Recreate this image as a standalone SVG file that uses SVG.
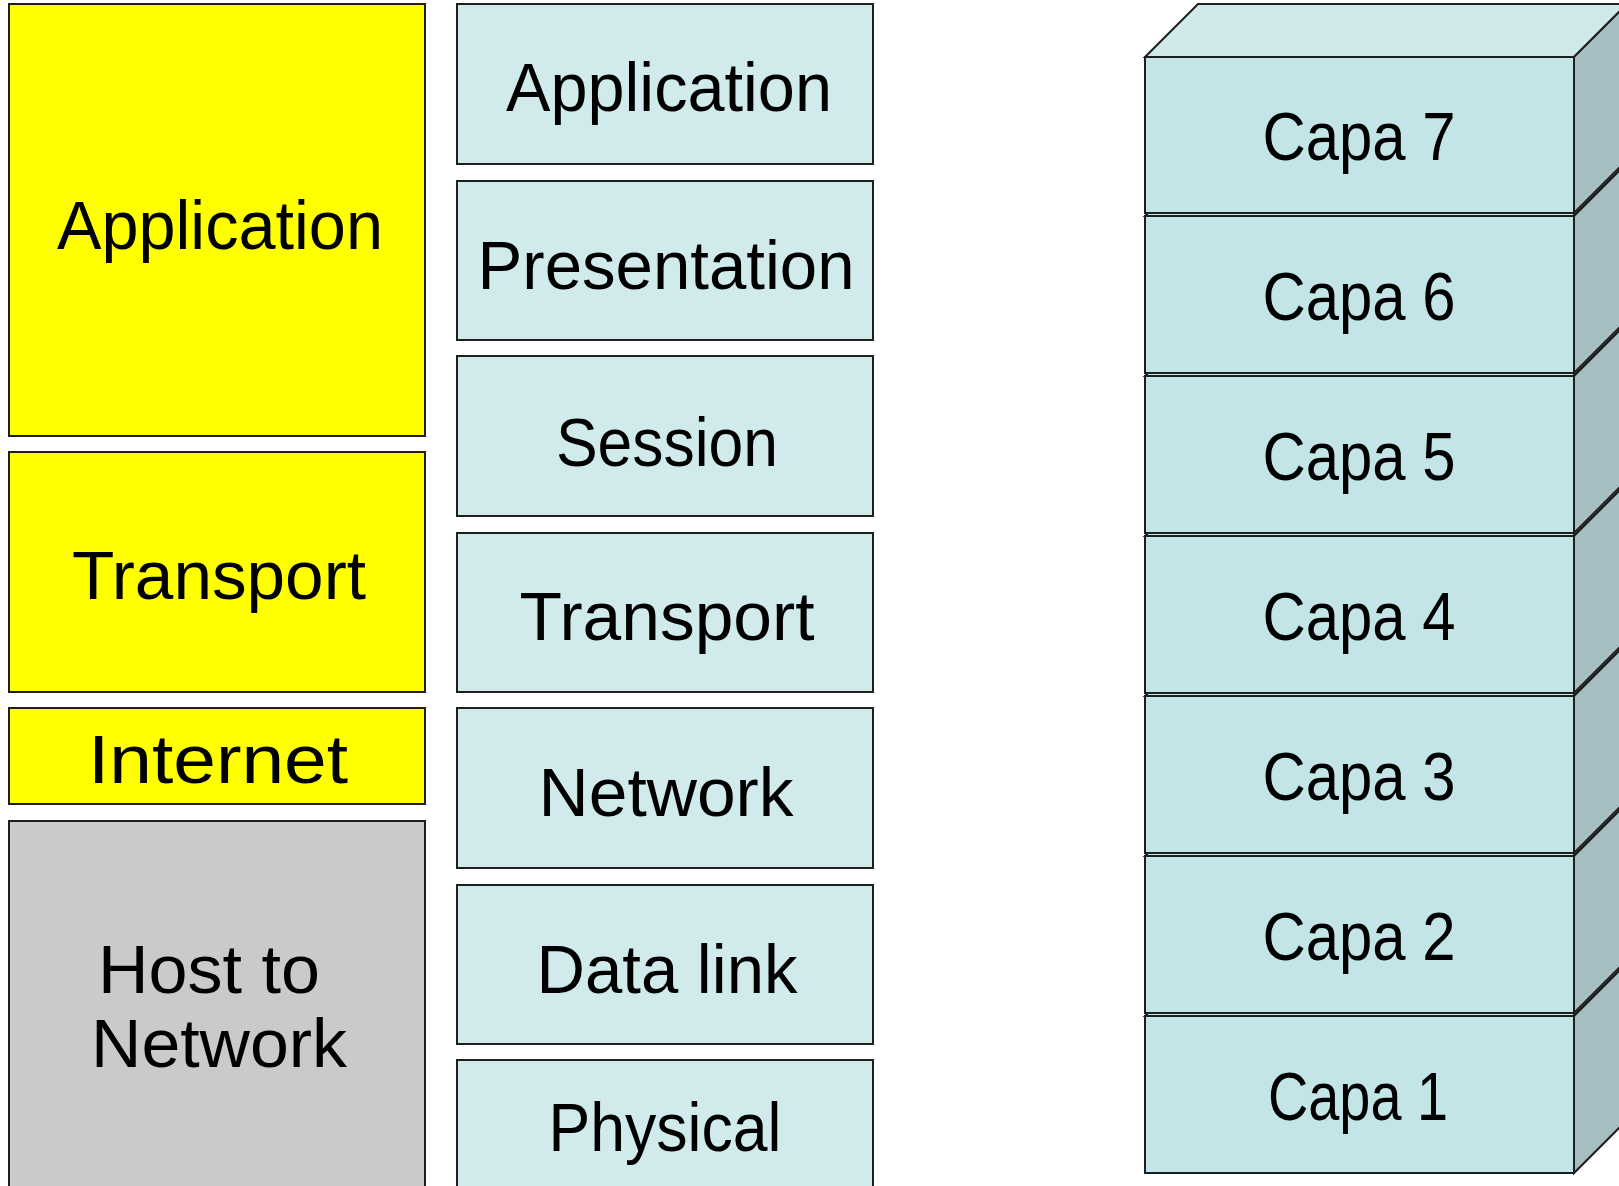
<svg xmlns="http://www.w3.org/2000/svg" width="1619" height="1186" viewBox="0 0 1619 1186">
<style>
.b{stroke:#1e1e1e;stroke-width:2}
.y{fill:#ffff00}
.g{fill:#cacaca}
.m{fill:#d1eaeb}
.f{fill:#c3e5e7}
.t{fill:#d0eaeb}
.s{fill:#a6bfc2}
text{font-family:"Liberation Sans","Noto Sans",sans-serif;font-size:68px;fill:#000;text-anchor:middle}
</style>
<rect width="1619" height="1186" fill="#fff"/>
<g id="tcpip">
<g id="tcp-application"><rect class="b y" x="9" y="4" width="416" height="432"/><text x="220" y="249" textLength="326" lengthAdjust="spacingAndGlyphs">Application</text></g>
<g id="tcp-transport"><rect class="b y" x="9" y="452" width="416" height="240"/><text x="219" y="599" textLength="294" lengthAdjust="spacingAndGlyphs">Transport</text></g>
<g id="tcp-internet"><rect class="b y" x="9" y="708" width="416" height="96"/><text x="218" y="783" textLength="260" lengthAdjust="spacingAndGlyphs">Internet</text></g>
<g id="tcp-host"><rect class="b g" x="9" y="821" width="416" height="420"/><text x="209" y="993" textLength="222" lengthAdjust="spacingAndGlyphs">Host to</text><text x="219" y="1067" textLength="256" lengthAdjust="spacingAndGlyphs">Network</text></g>
</g>
<g id="osi">
<g id="osi-application"><rect class="b m" x="457" y="4" width="416" height="160"/><text x="669" y="111" textLength="326" lengthAdjust="spacingAndGlyphs">Application</text></g>
<g id="osi-presentation"><rect class="b m" x="457" y="181" width="416" height="159"/><text x="666" y="289" textLength="377" lengthAdjust="spacingAndGlyphs">Presentation</text></g>
<g id="osi-session"><rect class="b m" x="457" y="356" width="416" height="160"/><text x="667" y="466" textLength="222" lengthAdjust="spacingAndGlyphs">Session</text></g>
<g id="osi-transport"><rect class="b m" x="457" y="533" width="416" height="159"/><text x="667" y="640" textLength="295" lengthAdjust="spacingAndGlyphs">Transport</text></g>
<g id="osi-network"><rect class="b m" x="457" y="708" width="416" height="160"/><text x="666" y="816" textLength="255" lengthAdjust="spacingAndGlyphs">Network</text></g>
<g id="osi-datalink"><rect class="b m" x="457" y="885" width="416" height="159"/><text x="667" y="993" textLength="261" lengthAdjust="spacingAndGlyphs">Data link</text></g>
<g id="osi-physical"><rect class="b m" x="457" y="1060" width="416" height="180"/><text x="665" y="1151" textLength="233" lengthAdjust="spacingAndGlyphs">Physical</text></g>
</g>
<g id="stack">
<g id="capa1"><polygon class="b t" points="1145,1016 1198,963 1627,963 1574,1016"/><rect class="b f" x="1145" y="1016" width="429" height="157"/><polygon class="b s" points="1574,1016 1627,963 1627,1120 1574,1173"/><text x="1358" y="1120" textLength="180" lengthAdjust="spacingAndGlyphs">Capa 1</text></g>
<g id="capa2"><polygon class="b t" points="1145,856 1198,803 1627,803 1574,856"/><rect class="b f" x="1145" y="856" width="429" height="157"/><polygon class="b s" points="1574,856 1627,803 1627,960 1574,1013"/><text x="1359" y="960" textLength="193" lengthAdjust="spacingAndGlyphs">Capa 2</text></g>
<g id="capa3"><polygon class="b t" points="1145,696 1198,643 1627,643 1574,696"/><rect class="b f" x="1145" y="696" width="429" height="157"/><polygon class="b s" points="1574,696 1627,643 1627,800 1574,853"/><text x="1359" y="800" textLength="193" lengthAdjust="spacingAndGlyphs">Capa 3</text></g>
<g id="capa4"><polygon class="b t" points="1145,536 1198,483 1627,483 1574,536"/><rect class="b f" x="1145" y="536" width="429" height="157"/><polygon class="b s" points="1574,536 1627,483 1627,640 1574,693"/><text x="1359" y="640" textLength="193" lengthAdjust="spacingAndGlyphs">Capa 4</text></g>
<g id="capa5"><polygon class="b t" points="1145,376 1198,323 1627,323 1574,376"/><rect class="b f" x="1145" y="376" width="429" height="157"/><polygon class="b s" points="1574,376 1627,323 1627,480 1574,533"/><text x="1359" y="480" textLength="193" lengthAdjust="spacingAndGlyphs">Capa 5</text></g>
<g id="capa6"><polygon class="b t" points="1145,216 1198,163 1627,163 1574,216"/><rect class="b f" x="1145" y="216" width="429" height="157"/><polygon class="b s" points="1574,216 1627,163 1627,320 1574,373"/><text x="1359" y="320" textLength="193" lengthAdjust="spacingAndGlyphs">Capa 6</text></g>
<g id="capa7"><polygon class="b t" points="1145,57 1198,4 1627,4 1574,57"/><rect class="b f" x="1145" y="57" width="429" height="156"/><polygon class="b s" points="1574,57 1627,4 1627,160 1574,213"/><text x="1359" y="160" textLength="193" lengthAdjust="spacingAndGlyphs">Capa 7</text></g>
</g>
</svg>
